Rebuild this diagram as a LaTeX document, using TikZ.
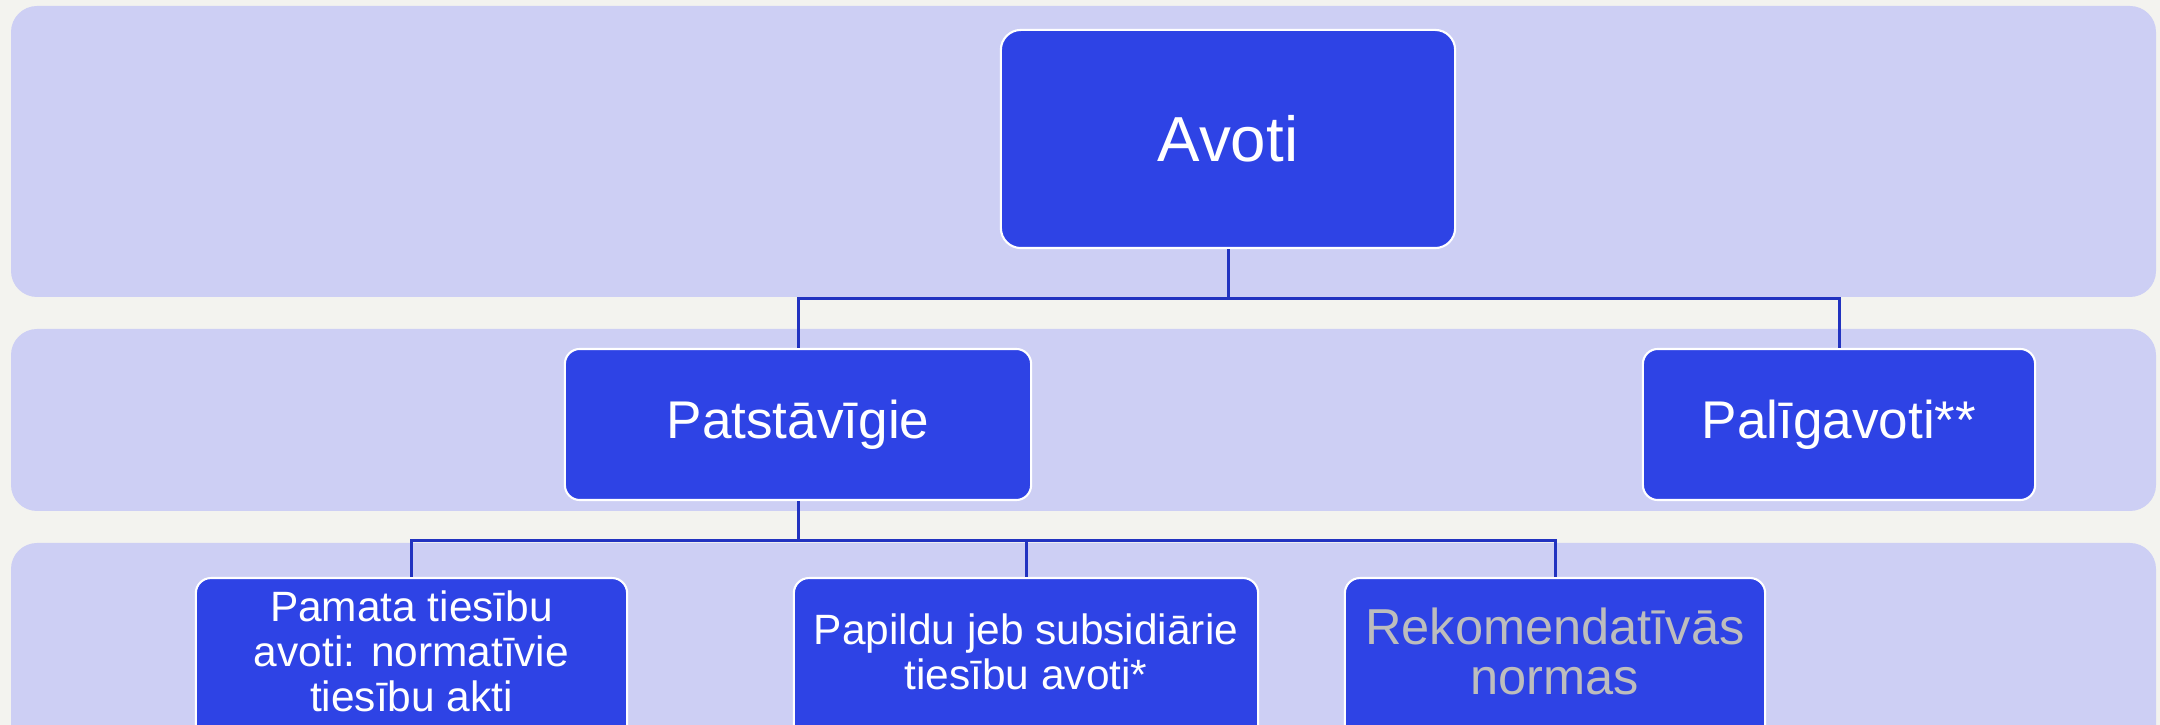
\documentclass[tikz,border=0pt]{standalone}
\usepackage{fontspec}
\usepackage{xcolor}
\usepackage{tikz}
\setmainfont{Liberation Sans}

\definecolor{pagebg}{HTML}{F3F3EF}
\definecolor{bandfill}{HTML}{CDCFF4}
\definecolor{boxfill}{HTML}{2E43E5}
\definecolor{linkcol}{HTML}{2233C0}
\definecolor{greytxt}{HTML}{BDBDBD}

\begin{document}
\begin{tikzpicture}[x=0.01cm,y=-0.01cm,
  band/.style={fill=bandfill,rounded corners=0.26cm},
  srcbox/.style={draw=white,line width=0.6pt,fill=boxfill,rounded corners=0.15cm,
    text=white,align=center,inner sep=0pt},
  lowbox/.style={srcbox,anchor=north,minimum height=1.9cm,text depth=0.43cm,
    font=\fontsize{12.06}{12.8}\selectfont},
  link/.style={draw=linkcol,line width=0.85pt}]
\useasboundingbox (0,0) rectangle (2160,725);
\fill [pagebg] (0,0) rectangle (2160,725);
\clip (0,0) rectangle (2160,725);
% bands
\fill [band] (11,6) rectangle (2156,297);
\fill [band] (11,329) rectangle (2156,511);
\fill [band] (11,543) rectangle (2156,770);
% boxes
\node [srcbox,rounded corners=0.2cm,minimum width=4.54cm,minimum height=2.18cm,
  font=\fontsize{18.1}{21}\selectfont] (avoti) at (1228,139) {Avoti};
\node [srcbox,minimum width=4.66cm,minimum height=1.51cm,
  font=\fontsize{15.1}{18}\selectfont] (patst) at (798,424.5) {Patstāvīgie};
\node [srcbox,minimum width=3.92cm,minimum height=1.51cm,
  font=\fontsize{15.1}{18}\selectfont] (palig) at (1839,424.5) {Palīgavoti**};
\node [lowbox,minimum width=4.31cm] (pamata) at (411.5,577)
  {Pamata tiesību\\avoti: normatīvie\\tiesību akti};
\node [lowbox,minimum width=4.64cm] (papildu) at (1026,577)
  {Papildu jeb subsidiārie\\tiesību avoti*};
\node [lowbox,minimum width=4.20cm,text=greytxt,
  font=\fontsize{14.37}{14.2}\selectfont] (rekom) at (1555,577)
  {Rekomendatīvās\\normas};
% links
\draw [link] (avoti.south) -- ++(0,49) -| (patst.north);
\draw [link] (avoti.south) -- ++(0,49) -| (palig.north);
\draw [link] (patst.south) -- ++(0,39) -| (pamata.north);
\draw [link] (patst.south) -- ++(0,39) -| (papildu.north);
\draw [link] (patst.south) -- ++(0,39) -| (rekom.north);
\end{tikzpicture}
\end{document}
